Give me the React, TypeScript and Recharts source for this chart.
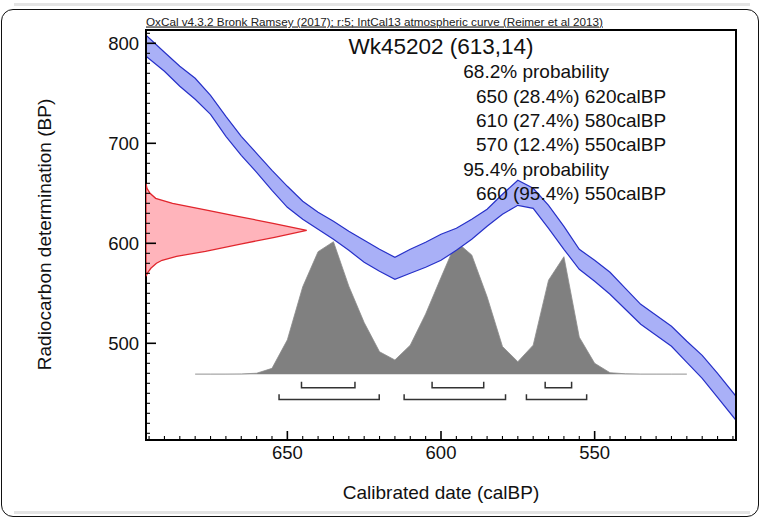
import React from "react";
import { ComposedChart, XAxis, YAxis, Area, Scatter, ReferenceArea } from "recharts";

// IntCal13 band (calBP vs BP, +-1 sigma)
const curveCal = [696, 690, 685, 680, 675, 670, 665, 660, 655, 650, 645, 640, 635, 630, 625, 620, 615, 610, 605, 600, 595, 590, 585, 580, 575, 570, 565, 560, 555, 550, 545, 540, 535, 530, 525, 520, 515, 510, 504];
const curveUpper = [808, 791, 777, 765, 748, 727, 707, 690, 673, 657, 642, 631, 622, 612, 603, 594, 586, 594, 601, 609, 615, 624, 634, 649, 663, 655, 638, 617, 594, 583, 571, 555, 539, 528, 517, 502, 488, 470, 447];
const curveLower = [787, 772, 757, 744, 729, 707, 688, 671, 653, 636, 624, 614, 604, 593, 581, 572, 564, 570, 576, 583, 593, 604, 617, 629, 638, 635, 615, 594, 574, 562, 549, 534, 519, 508, 497, 481, 465, 446, 423];

// calibrated probability (relative)
const probCal = [680, 675, 670, 665, 660, 655, 650, 645, 640, 635, 630, 625, 620, 615, 610, 605, 600, 595, 590, 585, 580, 575, 570, 565, 560, 555, 550, 545, 540, 535, 530, 525, 520];
const probVals = [0.002, 0.002, 0.002, 0.003, 0.008, 0.045, 0.26, 0.66, 0.925, 1.0, 0.665, 0.39, 0.17, 0.108, 0.22, 0.455, 0.73, 1.0, 0.9, 0.585, 0.21, 0.095, 0.22, 0.71, 0.887, 0.28, 0.083, 0.012, 0.004, 0.002, 0.002, 0.002, 0.002];

// radiocarbon date 613 +- 14 (relative density)
const redBP = [660, 655, 650, 645, 640, 633, 627, 620, 613, 606, 599, 592, 587, 583, 580, 575, 571, 567];
const redDens = [0, 0.006, 0.025, 0.06, 0.165, 0.385, 0.57, 0.79, 1.0, 0.8, 0.58, 0.37, 0.19, 0.1, 0.065, 0.03, 0.012, 0];

const range68 = [[645.4, 628.0], [602.9, 586.1], [566.1, 557.5]];
const range95 = [[652.7, 620.1], [612.0, 579.0], [572.2, 552.6]];

const xMajor = [650, 600, 550];
const yMajor = [500, 600, 700, 800];

const title = "Wk45202 (613,14)";
const header = "OxCal v4.3.2 Bronk Ramsey (2017); r:5; IntCal13 atmospheric curve (Reimer et al 2013)";
const summary = [
  "68.2% probability",
  "650 (28.4%) 620calBP",
  "610 (27.4%) 580calBP",
  "570 (12.4%) 550calBP",
  "95.4% probability",
  "660 (95.4%) 550calBP",
];

const FONT = '"Liberation Sans", Arial, Helvetica, sans-serif';

const xTicks: number[] = [];
for (let v = 505; v <= 695; v += 5) xTicks.push(v);
const yTicks: number[] = [];
for (let v = 410; v <= 810; v += 10) yTicks.push(v);

const tableData = curveCal.map((c, i) => {
  const k = probCal.indexOf(c);
  return {
    c,
    band: [curveLower[i], curveUpper[i]],
    prob: k >= 0 ? probVals[k] : null,
  };
});

const redData = redBP.map((bp, i) => ({ bp, d: redDens[i] }));

const bracket = (r: number[], base: number, top: number) => [
  { c: r[0], p: top },
  { c: r[0], p: base },
  { c: r[1], p: base },
  { c: r[1], p: top },
];

const XTick = (props: any) => {
  const { x, y, payload } = props;
  const major = xMajor.includes(payload.value);
  return (
    <g>
      <line x1={x} x2={x} y1={y} y2={y - (major ? 9 : 4)} stroke="#000" strokeWidth={major ? 1.6 : 1.1} />
      {major && (
        <text x={x} y={y + 19} textAnchor="middle" fontSize={18.5} fontFamily={FONT} fill="#111">
          {payload.value}
        </text>
      )}
    </g>
  );
};

const YTick = (props: any) => {
  const { x, y, payload } = props;
  const major = yMajor.includes(payload.value);
  return (
    <g>
      <line x1={x} x2={x + (major ? 10 : 4)} y1={y} y2={y} stroke="#000" strokeWidth={major ? 1.6 : 1.1} />
      {major && (
        <text x={x - 7} y={y + 6.5} textAnchor="end" fontSize={18.5} fontFamily={FONT} fill="#111">
          {payload.value}
        </text>
      )}
    </g>
  );
};

// closed polygon for the measured date, drawn from the scatter's scaled points
const redShape = (props: any) => {
  const pts = props.points || [];
  if (!pts.length) return <g />;
  const d = pts.map((p: any, i: number) => `${i ? "L" : "M"}${p.x},${p.y}`).join(" ") + " Z";
  return <path d={d} fill="#ffb4bb" stroke="#e1262d" strokeWidth={1.3} />;
};

const noDot = () => <g />;

export default function App() {
  return (
    <div style={{ position: "absolute", left: 0, top: 0, width: 763, height: 523, background: "#fff", overflow: "hidden" }}>
      <div style={{ position: "absolute", left: 14, top: 3, width: 736, height: 3, background: "#e4e4e4" }} />
      <div
        style={{
          position: "absolute",
          left: 1,
          top: 9,
          width: 758,
          height: 508,
          border: "1.5px solid #111",
          borderRadius: 12,
          boxSizing: "border-box",
        }}
      />
      <div style={{ position: "absolute", left: 14, top: 511, width: 736, height: 3, background: "#e4e4e4" }} />
      <div style={{ position: "absolute", left: 0, top: 0 }}>
        <ComposedChart width={763} height={523} data={tableData} margin={{ top: 30, right: 27, bottom: 43, left: 86 }}>
          <XAxis
            dataKey="c"
            type="number"
            domain={[504, 696]}
            reversed
            allowDataOverflow
            ticks={xTicks}
            interval={0}
            tickSize={0}
            tickMargin={0}
            height={40}
            axisLine={{ stroke: "#000", strokeWidth: 2 }}
            tickLine={false}
            tick={<XTick />}
          />
          <XAxis xAxisId="dens" dataKey="d" type="number" domain={[0, 3.671]} allowDataOverflow hide />
          <YAxis
            dataKey="bp"
            type="number"
            domain={[403.3, 813.3]}
            allowDataOverflow
            ticks={yTicks}
            interval={0}
            tickSize={0}
            tickMargin={0}
            width={60}
            axisLine={{ stroke: "#000", strokeWidth: 2 }}
            tickLine={false}
            tick={<YTick />}
          />
          <YAxis yAxisId="prob" dataKey="p" type="number" domain={[-0.4955, 2.597]} allowDataOverflow hide />

          <Area
            yAxisId="prob"
            dataKey="prob"
            type="linear"
            baseValue={0}
            fill="#808080"
            fillOpacity={1}
            stroke="#8c8c8c"
            strokeWidth={0.8}
            isAnimationActive={false}
          />
          <Area
            dataKey="band"
            type="linear"
            fill="#a9b0f7"
            fillOpacity={1}
            stroke="#2630c8"
            strokeWidth={1.2}
            isAnimationActive={false}
          />
          <Scatter xAxisId="dens" data={redData} line={redShape} shape={noDot} isAnimationActive={false} />
          {range68.map((r, i) => (
            <Scatter
              key={"a" + i}
              yAxisId="prob"
              data={bracket(r, -0.101, -0.056)}
              line={{ stroke: "#333", strokeWidth: 1.5 }}
              lineJointType="linear"
              fill="#333"
              shape={noDot}
              isAnimationActive={false}
            />
          ))}
          {range95.map((r, i) => (
            <Scatter
              key={"b" + i}
              yAxisId="prob"
              data={bracket(r, -0.19, -0.15)}
              line={{ stroke: "#333", strokeWidth: 1.5 }}
              lineJointType="linear"
              fill="#333"
              shape={noDot}
              isAnimationActive={false}
            />
          ))}
          <ReferenceArea x1={504} x2={696} y1={403.3} y2={813.3} fill="none" stroke="#000" strokeWidth={2} ifOverflow="visible" />
        </ComposedChart>
      </div>
      <svg width={763} height={523} style={{ position: "absolute", left: 0, top: 0, pointerEvents: "none" }} fontFamily={FONT}>
        <text x={146} y={25.5} fontSize={11} fill="#222" textLength={457} lengthAdjust="spacingAndGlyphs" textDecoration="underline">
          {header}
        </text>
        <text x={441} y={54} fontSize={22.5} textAnchor="middle" fill="#111">
          {title}
        </text>
        {summary.map((s, i) => (
          <text key={i} x={s.includes("probability") ? 463.3 : 476} y={78.3 + i * 24.3} fontSize={19} fill="#111">
            {s}
          </text>
        ))}
        <text x={441} y={499} fontSize={19} textAnchor="middle" fill="#111">
          Calibrated date (calBP)
        </text>
        <text x={0} y={0} fontSize={19} textAnchor="middle" fill="#111" transform="translate(50.8,234.5) rotate(-90)">
          Radiocarbon determination (BP)
        </text>
      </svg>
    </div>
  );
}
